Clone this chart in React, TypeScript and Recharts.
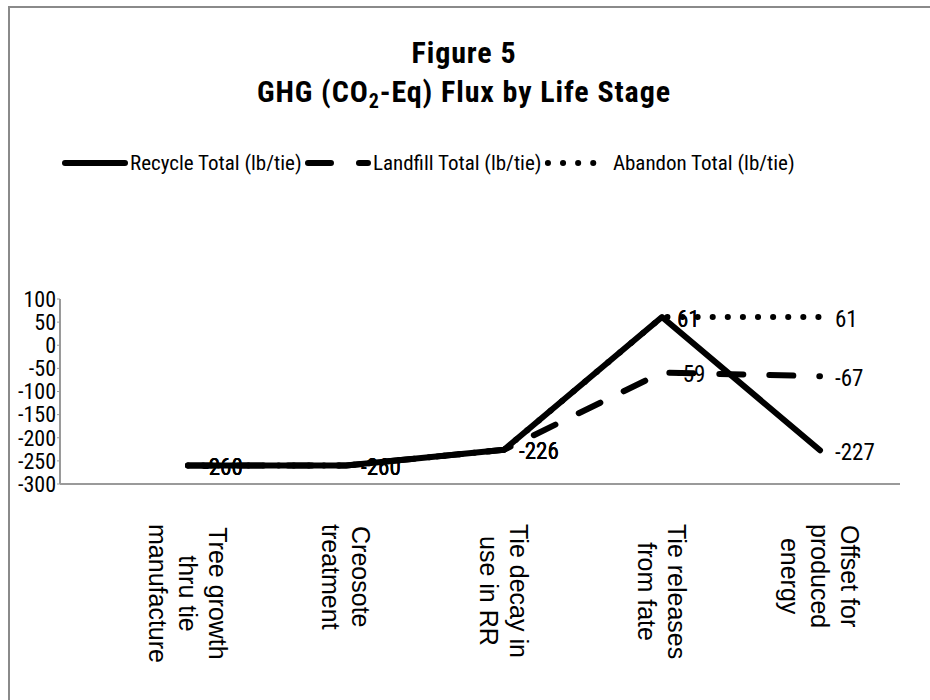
import React from "react";
import { LineChart, Line, XAxis, YAxis } from "recharts";

const stages = [
  "Tree growth\nthru tie\nmanufacture",
  "Creosote\ntreatment",
  "Tie decay in\nuse in RR",
  "Tie releases\nfrom fate",
  "Offset for\nproduced\nenergy",
];
const recycleTotal = [-260, -260, -226, 61, -227];
const landfillTotal = [-260, -260, -226, -59, -67];
const abandonTotal = [-260, -260, -226, 61, 61];
const yTicks = [-300, -250, -200, -150, -100, -50, 0, 50, 100];
const seriesNames = [
  "Recycle Total (lb/tie)",
  "Landfill Total (lb/tie)",
  "Abandon Total (lb/tie)",
];

const data = stages.map((stage, i) => ({
  stage,
  recycle: recycleTotal[i],
  landfill: landfillTotal[i],
  abandon: abandonTotal[i],
}));

const NARROW = "'Roboto Condensed', 'DejaVu Sans Condensed', sans-serif";
const CAT_FONT = "'Liberation Sans', Arial, sans-serif";
const AXIS_GRAY = "#9a9a9a";

const series = [
  { key: "recycle", dash: undefined as string | undefined, legendDash: undefined as string | undefined },
  { key: "landfill", dash: "24 26", legendDash: "23 28" },
  { key: "abandon", dash: "0.1 15", legendDash: "0.1 15" },
];

let canvas: HTMLCanvasElement | null = null;
function textWidth(text: string, font: string) {
  if (!canvas) canvas = document.createElement("canvas");
  const ctx = canvas.getContext("2d");
  if (!ctx) return text.length * 10;
  ctx.font = font;
  return ctx.measureText(text).width;
}

// rotated, multi-line category label (reads top to bottom)
function StageTick(props: any) {
  const { x, y, payload } = props;
  const lines = String(payload.value).split("\n");
  const maxLen = Math.max(...lines.map((l) => textWidth(l, `25px ${CAT_FONT}`)));
  const step = 30;
  return (
    <g transform={`translate(${x},${y})`}>
      {lines.map((l, i) => {
        const dx = ((lines.length - 1) / 2 - i) * step;
        return (
          <text
            key={i}
            transform="rotate(90)"
            x={maxLen / 2}
            y={-dx}
            textAnchor="middle"
            dominantBaseline="central"
            fontFamily={CAT_FONT}
            fontSize={25}
            fill="#000"
          >
            {l}
          </text>
        );
      })}
    </g>
  );
}

function ValueLabel(props: any) {
  const { x, y, value } = props;
  return (
    <text
      x={x + 15}
      y={y + 2}
      dominantBaseline="central"
      fontFamily={NARROW}
      fontSize={23}
      fill="#000"
    >
      {value}
    </text>
  );
}

function Overlay() {
  const legendFont = `21px ${NARROW}`;
  let cx = 62;
  const items = seriesNames.map((name, i) => {
    const sx = cx;
    const tx = sx + 68;
    const w = textWidth(name, legendFont);
    cx = tx + w + 3;
    return { name, sx, tx, dash: series[i].legendDash };
  });
  return (
    <svg
      width={930}
      height={700}
      style={{ position: "absolute", left: 0, top: 0, pointerEvents: "none" }}
    >
      <rect x={9} y={7} width={960} height={760} fill="none" stroke="#8a8a8a" strokeWidth={2} />
      <text
        x={464}
        y={63}
        textAnchor="middle"
        fontFamily={NARROW}
        fontWeight="bold"
        fontSize={30}
        letterSpacing={0.9}
      >
        Figure 5
      </text>
      <text
        x={464}
        y={102}
        textAnchor="middle"
        fontFamily={NARROW}
        fontWeight="bold"
        fontSize={30}
        letterSpacing={0.9}
      >
        GHG (CO
        <tspan fontSize={20} dy={6}>
          2
        </tspan>
        <tspan dy={-6}>-Eq) Flux by Life Stage</tspan>
      </text>
      {items.map((it) => (
        <g key={it.name}>
          <line
            x1={it.sx + 3}
            x2={it.sx + 63}
            y1={163}
            y2={163}
            stroke="#000"
            strokeWidth={6}
            strokeLinecap="round"
            strokeDasharray={it.dash}
          />
          <text
            x={it.tx}
            y={163}
            dominantBaseline="central"
            fontFamily={NARROW}
            fontSize={21}
            fill="#000"
          >
            {it.name}
          </text>
        </g>
      ))}
    </svg>
  );
}

export default function App() {
  return (
    <div
      style={{
        position: "absolute",
        left: 0,
        top: 0,
        width: 930,
        height: 700,
        background: "#fff",
      }}
    >
      <LineChart
        width={930}
        height={700}
        data={data}
        margin={{ top: 299, right: 30, left: 0, bottom: 0 }}
      >
        <XAxis
          dataKey="stage"
          height={216}
          padding={{ left: 128, right: 80 }}
          axisLine={{ stroke: AXIS_GRAY, strokeWidth: 2 }}
          tickLine={false}
          tickSize={0}
          tickMargin={40}
          interval={0}
          tick={<StageTick />}
        />
        <YAxis
          width={60}
          domain={[-300, 100]}
          ticks={yTicks}
          interval={0}
          axisLine={{ stroke: AXIS_GRAY, strokeWidth: 2 }}
          tickLine={{ stroke: AXIS_GRAY }}
          tickSize={3}
          tickMargin={1}
          tick={{ fontFamily: NARROW, fontSize: 22, fill: "#000" }}
        />
        {series.map((s) => (
          <Line
            key={s.key}
            dataKey={s.key}
            type="linear"
            stroke="#000"
            strokeWidth={6}
            strokeLinecap="round"
            strokeLinejoin="round"
            strokeDasharray={s.dash}
            dot={false}
            activeDot={false}
            label={<ValueLabel />}
            isAnimationActive={false}
          />
        ))}
      </LineChart>
      <Overlay />
    </div>
  );
}
